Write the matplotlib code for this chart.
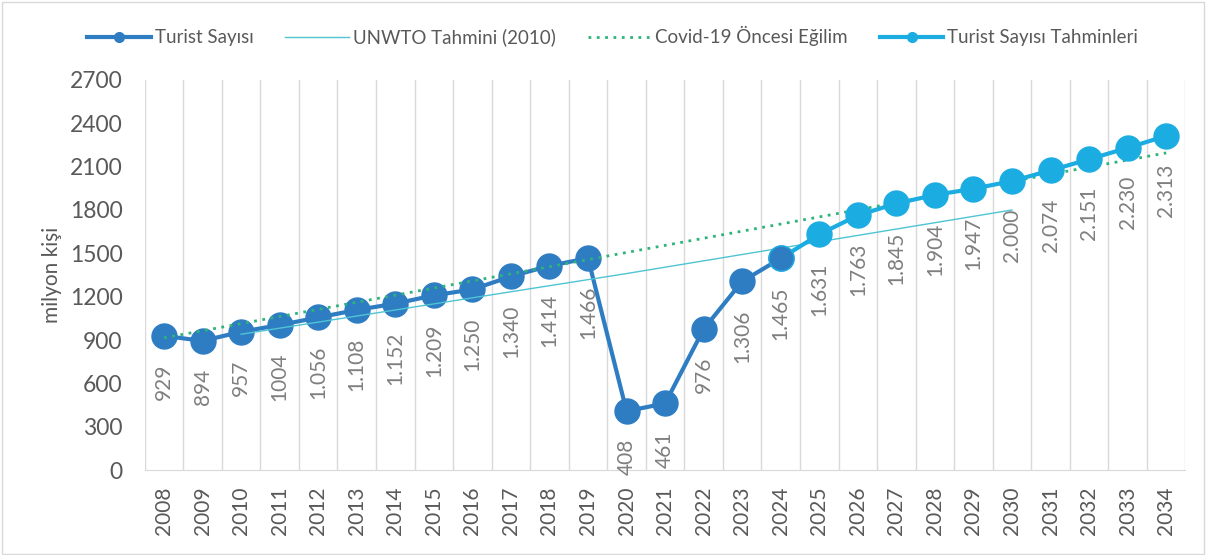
import numpy as np
import matplotlib
matplotlib.use("Agg")
import matplotlib.pyplot as plt
from matplotlib.patches import Rectangle

plt.rcParams['font.family'] = ['Lato', 'DejaVu Sans']

# data
years = list(range(2008, 2035))
actual = [929, 894, 957, 1004, 1056, 1108, 1152, 1209, 1250, 1340, 1414, 1466,
          408, 461, 976, 1306, 1465]
actual_labels = ["929", "894", "957", "1004", "1.056", "1.108", "1.152", "1.209",
                 "1.250", "1.340", "1.414", "1.466", "408", "461", "976", "1.306", "1.465"]
forecast_years = list(range(2024, 2035))
forecast = [1465, 1631, 1763, 1845, 1904, 1947, 2000, 2074, 2151, 2230, 2313]
forecast_labels = ["1.631", "1.763", "1.845", "1.904", "1.947", "2.000",
                   "2.074", "2.151", "2.230", "2.313"]
unwto_years = [2010, 2020, 2030]
unwto = [940, 1360, 1800]
trend_years = [2008, 2034]
trend = [915, 2195]

dark = '#2E7DC3'
light = '#1BADE2'
thin = '#4FC4D3'
green = '#2DB47A'
grey_txt = '#595959'
lbl_txt = '#7F7F7F'

fig = plt.figure(figsize=(12.06, 5.55), dpi=100)
ax = fig.add_axes([0.120, 0.153, 0.863, 0.703])

x0 = years[0]
xa = [y - x0 for y in years[:len(actual)]]
xf = [y - x0 for y in forecast_years]

ax.plot(xa, actual, color=dark, lw=3, marker='o', ms=18, zorder=3)
ax.plot([y - x0 for y in unwto_years], unwto, color=thin, lw=1, zorder=4)
ax.plot([y - x0 for y in trend_years], trend, color=green, lw=2,
        linestyle=(0, (1, 2)), zorder=5)
ax.plot(xf, forecast, color=light, lw=3, marker='o', ms=18, zorder=6)
ax.plot(xa[-1], actual[-1], color=dark, marker='o', ms=16, zorder=7, ls='none')

for x, v, t in zip(xa, actual, actual_labels):
    ax.annotate(t, (x, v), xytext=(0, -20), textcoords='offset points',
                rotation=90, ha='center', va='top', fontsize=15, color=lbl_txt)
for x, v, t in zip(xf[1:], forecast[1:], forecast_labels):
    ax.annotate(t, (x, v), xytext=(0, -20), textcoords='offset points',
                rotation=90, ha='center', va='top', fontsize=15, color=lbl_txt)

ax.set_xlim(-0.5, 26.5)
ax.set_ylim(0, 2700)
ax.set_yticks(np.arange(0, 2701, 300))
ax.set_xticks(range(len(years)))
ax.set_xticklabels([str(y) for y in years], rotation=90)
ax.set_xticks(np.arange(-0.5, 27, 1), minor=True)
ax.grid(which='minor', axis='x', color='#D9D9D9', lw=1)
ax.tick_params(which='both', length=0)
ax.tick_params(axis='y', labelsize=16.5, colors=grey_txt, pad=16)
ax.tick_params(axis='x', labelsize=15, colors=grey_txt, pad=12)
for s in ['left', 'right', 'top']:
    ax.spines[s].set_visible(False)
ax.spines['bottom'].set_color('#D9D9D9')
ax.set_ylabel('milyon kişi', fontsize=15, color=grey_txt, va='center')
ax.yaxis.set_label_coords(-0.089, 0.5)

h1, = plt.plot([], [], color=dark, lw=3, marker='o', ms=7)
h2, = plt.plot([], [], color=thin, lw=1)
h3, = plt.plot([], [], color=green, lw=2, linestyle=(0, (1, 2)))
h4, = plt.plot([], [], color=light, lw=3, marker='o', ms=7)
fig.legend([h1, h2, h3, h4],
           ['Turist Sayısı', 'UNWTO Tahmini (2010)', 'Covid-19 Öncesi Eğilim',
            'Turist Sayısı Tahminleri'],
           loc='center', bbox_to_anchor=(0.508, 0.935), ncol=4, frameon=False,
           fontsize=13.5, labelcolor=grey_txt, handlelength=3.4, columnspacing=1.7,
           handletextpad=0.2)

fig.patches.append(Rectangle((0.002, 0.002), 0.996, 0.994, transform=fig.transFigure,
                             fill=False, edgecolor='#D9D9D9', lw=1))

fig.savefig('out.png', dpi=100)
